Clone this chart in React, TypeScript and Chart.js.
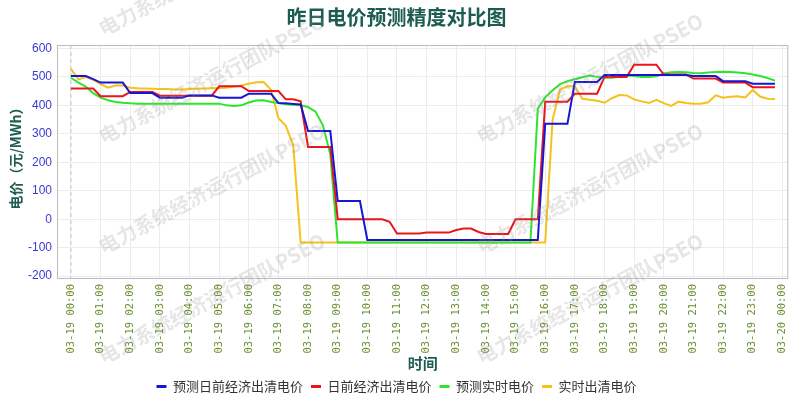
import React, { useEffect, useRef } from "react";
import { Chart, registerables } from "chart.js";

Chart.register(...registerables);

// ---------- data ----------
const TIME_LABELS = [
  "03-19 00:00", "03-19 01:00", "03-19 02:00", "03-19 03:00", "03-19 04:00",
  "03-19 05:00", "03-19 06:00", "03-19 07:00", "03-19 08:00", "03-19 09:00",
  "03-19 10:00", "03-19 11:00", "03-19 12:00", "03-19 13:00", "03-19 14:00",
  "03-19 15:00", "03-19 16:00", "03-19 17:00", "03-19 18:00", "03-19 19:00",
  "03-19 20:00", "03-19 21:00", "03-19 22:00", "03-19 23:00", "03-20 00:00",
];

const Y_TICKS = [-200, -100, 0, 100, 200, 300, 400, 500, 600];

const SERIES_NAMES = ["预测日前经济出清电价", "日前经济出清电价", "预测实时电价", "实时出清电价"];

// 96 points, 15-minute steps from 00:00
const PRED_DAY_AHEAD = [
  503, 503, 503, 492, 480, 480, 480, 480, 443, 443, 443, 443,
  427, 427, 427, 427, 435, 435, 435, 435, 427, 427, 427, 427,
  441, 441, 441, 441, 408, 407, 405, 403, 310, 310, 310, 310,
  64, 64, 64, 64, -73, -73, -73, -73, -73, -73, -73, -73,
  -73, -73, -73, -73, -73, -73, -73, -73, -73, -73, -73, -73,
  -73, -73, -73, -73, 335, 335, 335, 335, 482, 482, 482, 482,
  507, 507, 507, 507, 507, 507, 507, 507, 507, 507, 507, 507,
  503, 503, 503, 503, 485, 485, 485, 485, 476, 476, 476, 476,
];

const DAY_AHEAD_CLEAR = [
  459, 459, 459, 459, 432, 432, 432, 432, 447, 447, 447, 447,
  434, 434, 434, 434, 434, 434, 434, 434, 467, 467, 467, 467,
  450, 450, 450, 450, 450, 421, 421, 414, 254, 254, 254, 254,
  0, 0, 0, 0, 0, 0, 0, -9, -50, -50, -50, -50,
  -47, -47, -47, -47, -38, -33, -33, -45, -52, -52, -52, -52,
  0, 0, 0, 0, 413, 413, 413, 413, 441, 441, 441, 441,
  500, 500, 500, 500, 543, 543, 543, 543, 508, 508, 508, 508,
  494, 494, 494, 494, 480, 480, 480, 480, 464, 464, 464, 464,
];

const PRED_REAL_TIME = [
  497, 480, 466, 443, 427, 418, 412, 409, 407, 406, 406, 406,
  406, 406, 406, 406, 406, 406, 406, 406, 406, 400, 398, 400,
  410, 417, 418, 412, 408, 404, 402, 400, 394, 378, 330, 228,
  -82, -82, -82, -82, -82, -82, -82, -82, -82, -82, -82, -82,
  -82, -82, -82, -82, -82, -82, -82, -82, -82, -82, -82, -82,
  -82, -82, -82, 388, 428, 453, 475, 485, 492, 499, 505, 500,
  497, 497, 500, 505, 503, 500, 500, 502, 512, 516, 517, 516,
  514, 513, 515, 517, 518, 517, 515, 513, 508, 503, 496, 487,
];

const REAL_TIME_CLEAR = [
  528, 491, 499, 490, 475, 462, 470, 470, 462, 460, 459, 458,
  457, 457, 456, 456, 457, 458, 459, 460, 461, 462, 466, 470,
  476, 481, 482, 455, 355, 328, 260, -82, -82, -82, -82, -82,
  -82, -82, -82, -82, -82, -82, -82, -82, -82, -82, -82, -82,
  -82, -82, -82, -82, -82, -82, -82, -82, -82, -82, -82, -82,
  -82, -82, -82, -82, -82, 350, 455, 468, 466, 423, 420, 416,
  409, 425, 436, 435, 421, 414, 408, 419, 408, 398, 413, 408,
  406, 406, 411, 435, 427, 430, 432, 428, 454, 431, 423, 422,
];

const SERIES_VALUES = [PRED_DAY_AHEAD, DAY_AHEAD_CLEAR, PRED_REAL_TIME, REAL_TIME_CLEAR];
const COLORS = ["#1616d4", "#e8161b", "#2ee52e", "#f5c21d"];

const WATERMARK_TEXT = "电力系统经济运行团队PSEO";

// ---------- styling ----------
const CJK = "'Noto Sans CJK SC', 'Liberation Sans', sans-serif";
const TEAL = "#1d5c50";

const framePlugin = {
  id: "frameAndZeroLine",
  beforeDatasetsDraw(chart: any) {
    const { ctx, chartArea, scales } = chart;
    ctx.save();
    const x0 = scales.x.getPixelForValue(0);
    ctx.strokeStyle = "#c4c4c4";
    ctx.lineWidth = 1;
    ctx.setLineDash([4, 3]);
    ctx.beginPath();
    ctx.moveTo(x0, chartArea.top);
    ctx.lineTo(x0, chartArea.bottom);
    ctx.stroke();
    ctx.setLineDash([]);
    ctx.strokeStyle = "#bcbcbc";
    ctx.lineWidth = 1;
    ctx.strokeRect(chartArea.left + 0.5, chartArea.top + 0.5, chartArea.width - 1, chartArea.height - 1);
    ctx.restore();
  },
};

const watermarkPlugin = {
  id: "watermark",
  afterDraw(chart: any) {
    const { ctx } = chart;
    const starts = [
      [100, 30], [100, 138], [100, 248], [100, 358],
      [478, 138], [478, 248], [478, 358],
    ];
    ctx.save();
    ctx.font = "bold 20px 'Noto Sans CJK SC', sans-serif";
    ctx.fillStyle = "rgba(150,150,150,0.24)";
    ctx.textAlign = "left";
    ctx.textBaseline = "middle";
    for (const [sx, sy] of starts) {
      ctx.save();
      ctx.translate(sx, sy);
      ctx.rotate((-28 * Math.PI) / 180);
      ctx.fillText(WATERMARK_TEXT, 0, 0);
      ctx.restore();
    }
    ctx.restore();
  },
};

export default function App() {
  const canvasRef = useRef<HTMLCanvasElement | null>(null);

  useEffect(() => {
    if (!canvasRef.current) return;
    const datasets = SERIES_NAMES.map((name, s) => ({
      label: name,
      data: SERIES_VALUES[s].map((v, i) => ({ x: i * 0.25, y: v })),
      borderColor: COLORS[s],
      backgroundColor: COLORS[s],
      borderWidth: 2,
      pointRadius: 0,
      tension: 0,
      fill: false,
    }));

    const chart = new Chart(canvasRef.current, {
      type: "line",
      data: { datasets },
      plugins: [framePlugin, watermarkPlugin],
      options: {
        animation: false,
        responsive: false,
        devicePixelRatio: 1,
        layout: { padding: { left: 0, right: 7, top: 0, bottom: 0 } },
        plugins: {
          title: {
            display: true,
            text: "昨日电价预测精度对比图",
            color: TEAL,
            font: { size: 20, weight: "bold", family: CJK },
            padding: { top: 5, bottom: 16 },
          },
          legend: {
            position: "bottom",
            maxHeight: 28,
            labels: {
              boxWidth: 10,
              boxHeight: 3,
              padding: 8,
              color: "#333",
              font: { size: 13, family: CJK },
              generateLabels: (c: any) => {
                const items = (Chart.defaults.plugins.legend.labels as any).generateLabels(c);
                return items.map((it: any) => ({ ...it, lineWidth: 0, fillStyle: it.strokeStyle }));
              },
            },
          },
          tooltip: { enabled: false },
        },
        scales: {
          x: {
            type: "linear",
            min: -0.47,
            max: 24.2,
            afterBuildTicks: (s: any) => {
              s.ticks = TIME_LABELS.map((_, i) => ({ value: i }));
            },
            afterFit: (s: any) => {
              s.height = 93;
            },
            grid: { color: "#ececec", drawTicks: false },
            border: { display: false },
            ticks: {
              autoSkip: false,
              minRotation: 90,
              maxRotation: 90,
              padding: 5,
              color: "#6a8f30",
              font: { size: 10.5, family: "'DejaVu Sans Mono', monospace" },
              callback: (v: any) => TIME_LABELS[Math.round(Number(v))] ?? "",
            },
            title: {
              display: true,
              text: "时间",
              color: TEAL,
              font: { size: 15, weight: "bold", family: CJK },
              padding: { top: 0, bottom: 0 },
            },
          },
          y: {
            min: -210,
            max: 612,
            afterBuildTicks: (s: any) => {
              s.ticks = Y_TICKS.map((v) => ({ value: v }));
            },
            afterFit: (s: any) => {
              s.width = 57;
            },
            grid: { color: "#ececec", drawTicks: false },
            border: { display: false },
            ticks: {
              padding: 5,
              color: "#3a3ad2",
              font: { size: 12, family: "'Liberation Sans', sans-serif" },
            },
            title: {
              display: true,
              text: "　电价（元/MWh）",
              color: TEAL,
              font: { size: 14, weight: "bold", family: CJK },
              padding: { top: 7, bottom: 0 },
            },
          },
        },
      } as any,
    });
    return () => chart.destroy();
  }, []);

  return (
    <div style={{ position: "absolute", left: 0, top: 0, width: 800, height: 400, background: "#fff" }}>
      <canvas ref={canvasRef} width={800} height={400} style={{ width: 800, height: 400 }} />
    </div>
  );
}
